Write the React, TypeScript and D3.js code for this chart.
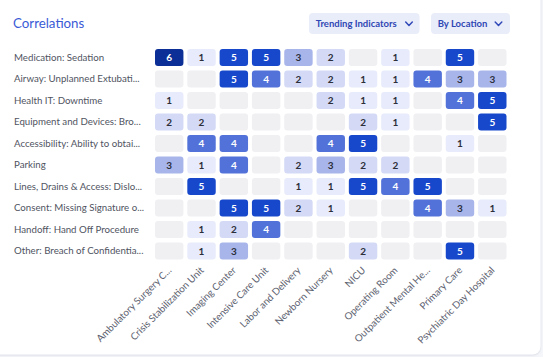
import React from "react";
import * as d3 from "d3";

const rows = [
  "Medication: Sedation",
  "Airway: Unplanned Extubati...",
  "Health IT: Downtime",
  "Equipment and Devices: Bro...",
  "Accessibility: Ability to obtai...",
  "Parking",
  "Lines, Drains & Access: Dislo...",
  "Consent: Missing Signature o...",
  "Handoff: Hand Off Procedure",
  "Other: Breach of Confidentia...",
];

const cols = [
  "Ambulatory Surgery C...",
  "Crisis Stabilization Unit",
  "Imaging Center",
  "Intensive Care Unit",
  "Labor and Delivery",
  "Newborn Nursery",
  "NICU",
  "Operating Room",
  "Outpatient Mental He...",
  "Primary Care",
  "Psychiatric Day Hospital",
];

// 0 = empty
const values: number[][] = [
  [6, 1, 5, 5, 3, 2, 0, 1, 0, 5, 0],
  [0, 0, 5, 4, 2, 2, 1, 1, 4, 3, 3],
  [1, 0, 0, 0, 0, 2, 1, 1, 0, 4, 5],
  [2, 2, 0, 0, 0, 0, 2, 1, 0, 0, 5],
  [0, 4, 4, 0, 0, 4, 5, 0, 0, 1, 0],
  [3, 1, 4, 0, 2, 3, 2, 2, 0, 0, 0],
  [0, 5, 0, 0, 1, 1, 5, 4, 5, 0, 0],
  [0, 0, 5, 5, 2, 1, 0, 0, 4, 3, 1],
  [0, 1, 2, 4, 0, 0, 0, 0, 0, 0, 0],
  [0, 1, 3, 0, 0, 0, 2, 0, 0, 5, 0],
];

const levels = [0, 1, 2, 3, 4, 5, 6];
const levelColors = ["#f0f0f3", "#e8ebfb", "#d4daf6", "#a8b5ea", "#5272d9", "#1748cc", "#0b2f96"];

const W = 543;
const H = 357;

export default function App() {
  const x = d3.scaleBand<string>().domain(cols).range([155, 506.5]).paddingInner(0.12);
  const y = d3.scaleBand<string>().domain(rows).range([49, 259.5]).paddingInner(0.21);
  const color = d3.scaleOrdinal<number, string>().domain(levels).range(levelColors);
  const font = "Lato, 'Open Sans', sans-serif";

  const chevron = (cx: number, cy: number) => (
    <path
      d={`M${cx - 3.3},${cy - 1.7} L${cx},${cy + 1.7} L${cx + 3.3},${cy - 1.7}`}
      fill="none"
      stroke="#3149b8"
      strokeWidth={1.5}
      strokeLinecap="round"
      strokeLinejoin="round"
    />
  );

  return (
    <div style={{ position: "fixed", left: 0, top: 0, width: W, height: H }}>
      <svg width={W} height={H} style={{ display: "block", fontFamily: font }}>
        <defs>
          <filter id="sh" x="-5%" y="-5%" width="110%" height="110%">
            <feDropShadow dx="0" dy="0.5" stdDeviation="1.2" floodColor="#8090b0" floodOpacity="0.35" />
          </filter>
        </defs>
        <rect x={0} y={0} width={W} height={H} fill="#f5f6f9" />
        <rect x={-10} y={-10} width={550.5} height={364.5} rx={8} fill="#ffffff" filter="url(#sh)" />

        <text x={13} y={28} fontSize={13.3} fill="#3a5bd6">
          Correlations
        </text>

        <rect x={309} y={13} width={110.5} height={21} rx={4} fill="#e9ecf9" />
        <text x={315.7} y={27} fontSize={9.5} fontWeight={700} fill="#2f47b4">
          Trending Indicators
        </text>
        {chevron(409, 23.8)}

        <rect x={431} y={13} width={79} height={21} rx={4} fill="#e9ecf9" />
        <text x={437.7} y={27} fontSize={9.5} fontWeight={700} fill="#2f47b4">
          By Location
        </text>
        {chevron(498.5, 23.8)}

        {rows.map((r) => (
          <text
            key={r}
            x={14}
            y={(y(r) ?? 0) + y.bandwidth() / 2}
            dy="0.35em"
            fontSize={9.7}
            fill="#50545f"
          >
            {r}
          </text>
        ))}

        {values.map((row, i) =>
          row.map((v, j) => {
            const cx = x(cols[j]) ?? 0;
            const cy = y(rows[i]) ?? 0;
            return (
              <g key={`${i}-${j}`}>
                <rect
                  x={cx}
                  y={cy}
                  width={x.bandwidth()}
                  height={y.bandwidth()}
                  rx={3}
                  fill={color(v)}
                />
                {v > 0 && (
                  <text
                    x={cx + x.bandwidth() / 2}
                    y={cy + y.bandwidth() / 2}
                    dy="0.36em"
                    textAnchor="middle"
                    fontSize={10}
                    fontWeight={700}
                    fill={v >= 4 ? "#ffffff" : "#2c2f3a"}
                  >
                    {v}
                  </text>
                )}
              </g>
            );
          })
        )}

        {cols.map((c) => {
          const cx = (x(c) ?? 0) + x.bandwidth() / 2 + 0.5;
          const cy = 268.5;
          return (
            <text
              key={c}
              transform={`translate(${cx},${cy}) rotate(-45)`}
              textAnchor="end"
              fontSize={9.8}
              fill="#5d6270"
              dy="0.35em"
            >
              {c}
            </text>
          );
        })}
      </svg>
    </div>
  );
}
